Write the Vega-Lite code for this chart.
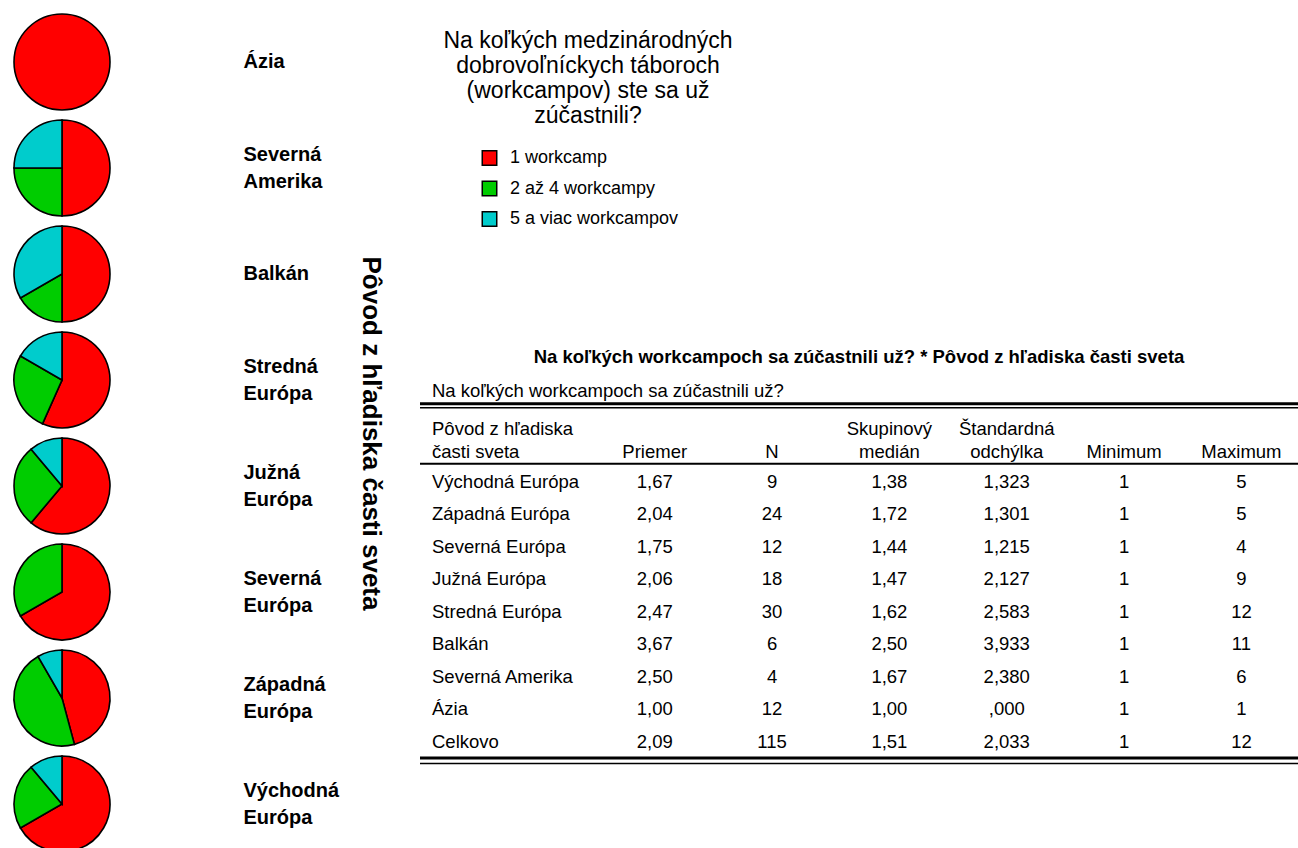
{
  "$schema": "https://vega.github.io/schema/vega-lite/v6.json",
  "background": "white",
  "padding": {"left": 10, "top": 10, "right": 0, "bottom": 0},
  "config": {"view": {"stroke": null}, "font": "Liberation Sans"},
  "datasets": {
    "pies": [
      {"region": "Ázia", "cat": "1 workcamp", "count": 12},
      {"region": "Severná Amerika", "cat": "1 workcamp", "count": 2},
      {"region": "Severná Amerika", "cat": "2 až 4 workcampy", "count": 1},
      {"region": "Severná Amerika", "cat": "5 a viac workcampov", "count": 1},
      {"region": "Balkán", "cat": "1 workcamp", "count": 3},
      {"region": "Balkán", "cat": "2 až 4 workcampy", "count": 1},
      {"region": "Balkán", "cat": "5 a viac workcampov", "count": 2},
      {"region": "Stredná Európa", "cat": "1 workcamp", "count": 17},
      {"region": "Stredná Európa", "cat": "2 až 4 workcampy", "count": 8},
      {"region": "Stredná Európa", "cat": "5 a viac workcampov", "count": 5},
      {"region": "Južná Európa", "cat": "1 workcamp", "count": 11},
      {"region": "Južná Európa", "cat": "2 až 4 workcampy", "count": 5},
      {"region": "Južná Európa", "cat": "5 a viac workcampov", "count": 2},
      {"region": "Severná Európa", "cat": "1 workcamp", "count": 8},
      {"region": "Severná Európa", "cat": "2 až 4 workcampy", "count": 4},
      {"region": "Západná Európa", "cat": "1 workcamp", "count": 11},
      {"region": "Západná Európa", "cat": "2 až 4 workcampy", "count": 11},
      {"region": "Západná Európa", "cat": "5 a viac workcampov", "count": 2},
      {"region": "Východná Európa", "cat": "1 workcamp", "count": 6},
      {"region": "Východná Európa", "cat": "2 až 4 workcampy", "count": 2},
      {"region": "Východná Európa", "cat": "5 a viac workcampov", "count": 1}
    ],
    "categories": [
      {"cat": "1 workcamp"},
      {"cat": "2 až 4 workcampy"},
      {"cat": "5 a viac workcampov"}
    ],
    "table": [
      {"row": "Východná Európa", "Priemer": "1,67", "N": "9", "Skupinový medián": "1,38", "Štandardná odchýlka": "1,323", "Minimum": "1", "Maximum": "5"},
      {"row": "Západná Európa", "Priemer": "2,04", "N": "24", "Skupinový medián": "1,72", "Štandardná odchýlka": "1,301", "Minimum": "1", "Maximum": "5"},
      {"row": "Severná Európa", "Priemer": "1,75", "N": "12", "Skupinový medián": "1,44", "Štandardná odchýlka": "1,215", "Minimum": "1", "Maximum": "4"},
      {"row": "Južná Európa", "Priemer": "2,06", "N": "18", "Skupinový medián": "1,47", "Štandardná odchýlka": "2,127", "Minimum": "1", "Maximum": "9"},
      {"row": "Stredná Európa", "Priemer": "2,47", "N": "30", "Skupinový medián": "1,62", "Štandardná odchýlka": "2,583", "Minimum": "1", "Maximum": "12"},
      {"row": "Balkán", "Priemer": "3,67", "N": "6", "Skupinový medián": "2,50", "Štandardná odchýlka": "3,933", "Minimum": "1", "Maximum": "11"},
      {"row": "Severná Amerika", "Priemer": "2,50", "N": "4", "Skupinový medián": "1,67", "Štandardná odchýlka": "2,380", "Minimum": "1", "Maximum": "6"},
      {"row": "Ázia", "Priemer": "1,00", "N": "12", "Skupinový medián": "1,00", "Štandardná odchýlka": ",000", "Minimum": "1", "Maximum": "1"},
      {"row": "Celkovo", "Priemer": "2,09", "N": "115", "Skupinový medián": "1,51", "Štandardná odchýlka": "2,033", "Minimum": "1", "Maximum": "12"}
    ],
    "header": [
      {"row": "header", "col": "Pôvod z hľadiska časti sveta", "label": "Pôvod z hľadiska\nčasti sveta"},
      {"row": "header", "col": "Priemer", "label": "\nPriemer"},
      {"row": "header", "col": "N", "label": "\nN"},
      {"row": "header", "col": "Skupinový medián", "label": "Skupinový\nmedián"},
      {"row": "header", "col": "Štandardná odchýlka", "label": "Štandardná\nodchýlka"},
      {"row": "header", "col": "Minimum", "label": "\nMinimum"},
      {"row": "header", "col": "Maximum", "label": "\nMaximum"}
    ],
    "caption": [
      {"row": "caption", "text": "Na koľkých workcampoch sa zúčastnili už?"}
    ]
  },
  "columns": 2,
  "align": "none",
  "spacing": 35,
  "concat": [
    {
      "data": {"name": "pies"},
      "width": 96,
      "height": 838,
      "transform": [
        {"stack": "count", "groupby": ["region"], "sort": [{"field": "cat", "order": "ascending"}], "offset": "normalize", "as": ["t0", "t1"]}
      ],
      "mark": {"type": "arc", "outerRadius": 48, "stroke": "black", "strokeWidth": 1.6},
      "encoding": {
        "y": {
          "field": "region",
          "type": "nominal",
          "sort": ["Ázia", "Severná Amerika", "Balkán", "Stredná Európa", "Južná Európa", "Severná Európa", "Západná Európa", "Východná Európa"],
          "scale": {"type": "point", "padding": 0.4528},
          "axis": {
            "orient": "right",
            "title": "Pôvod z hľadiska časti sveta",
            "labelExpr": "split(datum.label, ' ')",
            "labelFontSize": 20,
            "labelFontWeight": "bold",
            "labelColor": "black",
            "labelPadding": 133,
            "labelLineHeight": 27,
            "labelBaseline": "middle",
            "labelAlign": "left",
            "labelOffset": {"condition": {"test": "indexof(datum.label, ' ') >= 0", "value": -13.5}, "value": 0},
            "labelOverlap": false,
            "labelBound": false,
            "ticks": false,
            "domain": false,
            "grid": false,
            "titleFontSize": 26,
            "titleFontWeight": "bold",
            "titleColor": "black",
            "titleAngle": 90,
            "titlePadding": 47
          }
        },
        "theta": {"field": "t0", "type": "quantitative", "stack": null, "scale": {"domain": [0, 1]}},
        "theta2": {"field": "t1"},
        "color": {
          "field": "cat",
          "type": "nominal",
          "scale": {"domain": ["1 workcamp", "2 až 4 workcampy", "5 a viac workcampov"], "range": ["#ff0000", "#00cc00", "#00cccc"]},
          "legend": null
        }
      }
    },
    {
      "spacing": 113.5,
      "vconcat": [
        {
          "width": 336,
          "height": 220,
          "title": {
            "text": ["Na koľkých medzinárodných", "dobrovoľníckych táboroch", "(workcampov) ste sa už", "zúčastnili?"],
            "fontSize": 23,
            "fontWeight": "normal",
            "color": "black",
            "anchor": "middle",
            "lineHeight": 25,
            "offset": -114
          },
          "data": {"name": "categories"},
          "layer": [
            {
              "mark": {"type": "point", "shape": "square", "filled": true, "size": 210, "stroke": "black", "strokeWidth": 1.5, "opacity": 1, "xOffset": -98.5},
              "encoding": {
                "y": {"field": "cat", "type": "nominal", "axis": null, "scale": {"type": "point", "range": [144, 205], "padding": 0}},
                "color": {
                  "field": "cat",
                  "type": "nominal",
                  "scale": {"domain": ["1 workcamp", "2 až 4 workcampy", "5 a viac workcampov"], "range": ["#ff0000", "#00cc00", "#00cccc"]},
                  "legend": null
                }
              }
            },
            {
              "mark": {"type": "text", "align": "left", "baseline": "middle", "fontSize": 18, "color": "black", "xOffset": -78},
              "encoding": {
                "y": {"field": "cat", "type": "nominal", "axis": null},
                "text": {"field": "cat", "type": "nominal"}
              }
            }
          ]
        },
        {
          "width": 878,
          "height": 357.5,
          "title": {
            "text": "Na koľkých workcampoch sa zúčastnili už? * Pôvod z hľadiska časti sveta",
            "fontSize": 18.5,
            "fontWeight": "bold",
            "color": "black",
            "anchor": "middle",
            "offset": 15
          },
          "layer": [
            {
              "data": {"name": "table"},
              "transform": [{"fold": ["Priemer", "N", "Skupinový medián", "Štandardná odchýlka", "Minimum", "Maximum"], "as": ["col", "val"]}],
              "mark": {"type": "text", "fontSize": 18.5, "align": "center", "baseline": "middle", "color": "black"},
              "encoding": {
                "x": {
                  "field": "col",
                  "type": "nominal",
                  "scale": {"type": "point", "domain": ["Pôvod z hľadiska časti sveta", "_", "Priemer", "N", "Skupinový medián", "Štandardná odchýlka", "Minimum", "Maximum"], "padding": 0.241, "align": 0},
                  "axis": null
                },
                "y": {
                  "field": "row",
                  "type": "nominal",
                  "scale": {"type": "band", "domain": ["caption", "header", "Východná Európa", "Západná Európa", "Severná Európa", "Južná Európa", "Stredná Európa", "Balkán", "Severná Amerika", "Ázia", "Celkovo"], "paddingInner": 0, "paddingOuter": 0},
                  "axis": null
                },
                "text": {"field": "val", "type": "nominal"}
              }
            },
            {
              "data": {"name": "table"},
              "mark": {"type": "text", "fontSize": 18.5, "align": "left", "baseline": "middle", "dx": 12, "color": "black"},
              "encoding": {
                "x": {"datum": "Pôvod z hľadiska časti sveta", "axis": null},
                "y": {"field": "row", "type": "nominal", "axis": null},
                "text": {"field": "row", "type": "nominal"}
              }
            },
            {
              "data": {"name": "caption"},
              "mark": {"type": "text", "fontSize": 18.5, "align": "left", "baseline": "bottom", "dx": 12, "color": "black"},
              "encoding": {
                "x": {"datum": "Pôvod z hľadiska časti sveta", "axis": null},
                "y": {"field": "row", "type": "nominal", "bandPosition": 0, "axis": null},
                "text": {"field": "text", "type": "nominal"}
              }
            },
            {
              "data": {"name": "header"},
              "transform": [{"filter": "datum.col !== 'Pôvod z hľadiska časti sveta'"}],
              "mark": {"type": "text", "fontSize": 18.5, "align": "center", "baseline": "middle", "lineBreak": "\n", "lineHeight": 23, "yOffset": -4.25, "color": "black"},
              "encoding": {
                "x": {"field": "col", "type": "nominal", "axis": null},
                "y": {"field": "row", "type": "nominal", "bandPosition": 0, "axis": null},
                "text": {"field": "label", "type": "nominal"}
              }
            },
            {
              "data": {"name": "header"},
              "transform": [{"filter": "datum.col === 'Pôvod z hľadiska časti sveta'"}],
              "mark": {"type": "text", "fontSize": 18.5, "align": "left", "baseline": "middle", "lineBreak": "\n", "lineHeight": 23, "yOffset": -4.25, "dx": 12, "color": "black"},
              "encoding": {
                "x": {"field": "col", "type": "nominal", "axis": null},
                "y": {"field": "row", "type": "nominal", "bandPosition": 0, "axis": null},
                "text": {"field": "label", "type": "nominal"}
              }
            },
            {
              "data": {"values": [{"row": "caption"}]},
              "mark": {"type": "rule", "color": "black", "strokeWidth": 3, "yOffset": 3.25},
              "encoding": {"y": {"field": "row", "type": "nominal", "bandPosition": 0, "axis": null}}
            },
            {
              "data": {"values": [{"row": "caption"}]},
              "mark": {"type": "rule", "color": "black", "strokeWidth": 1.5, "yOffset": 7.25},
              "encoding": {"y": {"field": "row", "type": "nominal", "bandPosition": 0, "axis": null}}
            },
            {
              "data": {"values": [{"row": "Východná Európa"}]},
              "mark": {"type": "rule", "color": "black", "strokeWidth": 2, "yOffset": -1.75},
              "encoding": {"y": {"field": "row", "type": "nominal", "bandPosition": 0, "axis": null}}
            },
            {
              "data": {"values": [{"row": "Celkovo"}]},
              "mark": {"type": "rule", "color": "black", "strokeWidth": 3},
              "encoding": {"y": {"field": "row", "type": "nominal", "bandPosition": 1, "axis": null}}
            },
            {
              "data": {"values": [{"row": "Celkovo"}]},
              "mark": {"type": "rule", "color": "black", "strokeWidth": 1.5, "yOffset": 5.5},
              "encoding": {"y": {"field": "row", "type": "nominal", "bandPosition": 1, "axis": null}}
            }
          ]
        }
      ]
    }
  ]
}
